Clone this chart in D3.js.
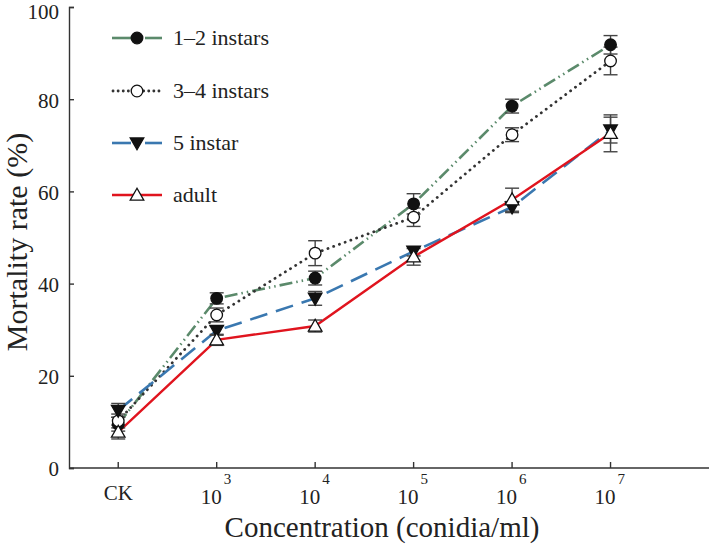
<!DOCTYPE html>
<html><head><meta charset="utf-8">
<script src="https://cdnjs.cloudflare.com/ajax/libs/d3/7.8.5/d3.min.js"></script>
<style>body{margin:0;background:#fff}svg{display:block}text{font-family:"Liberation Serif","Times New Roman",serif;fill:#222}</style>
</head><body><svg id="c" width="709" height="546"></svg>
<script>
const categories = ["CK","10^3","10^4","10^5","10^6","10^7"];
const yTicks = [0,20,40,60,80,100];
const seriesNames = ["1–2 instars","3–4 instars","5 instar","adult"];
const s12 = [9.5, 36.8, 41.2, 57.3, 78.5, 91.8];
const s12err = [1.5, 1.2, 1.5, 2.2, 1.5, 2.0];
const s34 = [10.2, 33.2, 46.6, 54.4, 72.3, 88.3];
const s34err = [1.5, 1.5, 2.7, 2.0, 1.5, 3.0];
const s5 = [12.5, 29.8, 36.8, 47.0, 56.6, 73.3];
const s5err = [1.5, 1.0, 1.5, 1.0, 1.2, 2.8];
const sAd = [7.8, 27.8, 30.8, 45.8, 58.2, 72.6];
const sAdErr = [1.5, 1.2, 1.3, 1.8, 2.5, 4.0];

const series = [
  {name: seriesNames[0], v: s12, e: s12err, color: "#5b8a6b", dash: "13,4,1.5,4,1.5,4", cap:"butt", w: 2.6, marker: "circle", fill: "#111"},
  {name: seriesNames[1], v: s34, e: s34err, color: "#333", dash: "0.1,6", cap:"round", w: 2.8, marker: "circle", fill: "#fff"},
  {name: seriesNames[2], v: s5, e: s5err, color: "#3a78b0", dash: "18,9", cap:"butt", w: 2.6, marker: "tri-down", fill: "#111"},
  {name: seriesNames[3], v: sAd, e: sAdErr, color: "#e0141e", dash: null, cap:"butt", w: 2.4, marker: "tri-up", fill: "#fff"}
];

const svg = d3.select("#c");
const x = d3.scaleLinear().domain([-0.5, 6]).range([69, 709]);
const y = d3.scaleLinear().domain([0, 100]).range([468, 7]);

// axes
const yAxis = d3.axisLeft(y).tickValues(yTicks).tickSize(-5).tickPadding(10);
const gy = svg.append("g").attr("transform","translate(69,0)").call(yAxis);
gy.select(".domain").attr("stroke","#333").attr("stroke-width",1.4);
gy.selectAll(".tick line").attr("stroke","#333").attr("stroke-width",1.4);
gy.selectAll(".tick text").attr("font-size",21).attr("dy", d => d === 100 ? "0.56em" : "0.38em").attr("font-family","Liberation Serif").attr("fill","#222");

svg.append("line").attr("x1",69).attr("x2",709).attr("y1",y(0)).attr("y2",y(0)).attr("stroke","#333").attr("stroke-width",1.4);
const gx = svg.append("g");
categories.forEach((c,i)=>{
  const xp = x(i);
  gx.append("line").attr("x1",xp).attr("x2",xp).attr("y1",y(0)).attr("y2",y(0)-6).attr("stroke","#333").attr("stroke-width",1.4);
  if (c === "CK") {
    gx.append("text").attr("x",xp).attr("y",500).attr("text-anchor","middle").attr("font-size",21).text(c);
  } else {
    const p = c.split("^");
    gx.append("text").attr("x",xp+5).attr("y",504).attr("text-anchor","end").attr("font-size",21).text(p[0]);
    gx.append("text").attr("x",xp+7).attr("y",484).attr("text-anchor","start").attr("font-size",15).text(p[1]);
  }
});

svg.append("text").attr("x",382).attr("y",537).attr("text-anchor","middle").attr("font-size",29).text("Concentration (conidia/ml)");
svg.append("text").attr("transform","translate(27,242) rotate(-90)").attr("text-anchor","middle").attr("font-size",30).text("Mortality rate (%)");

function drawMarker(g, type, cx, cy, fill){
  if (type === "circle") {
    g.append("circle").attr("cx",cx).attr("cy",cy).attr("r",5.8).attr("fill",fill).attr("stroke","#111").attr("stroke-width",1.3);
  } else {
    const s = 6.8;
    const pts = type === "tri-up"
      ? [[cx,cy-s],[cx-s,cy+s*0.75],[cx+s,cy+s*0.75]]
      : [[cx,cy+s],[cx-s,cy-s*0.75],[cx+s,cy-s*0.75]];
    g.append("path").attr("d", d3.line()(pts)+"Z").attr("fill",fill).attr("stroke","#111").attr("stroke-width",1.3);
  }
}

const line = d3.line().x((d,i)=>x(i)).y(d=>y(d));
series.forEach(s=>{
  const p = svg.append("path").attr("d", line(s.v)).attr("fill","none").attr("stroke", s.color).attr("stroke-width", s.w).attr("stroke-linecap", s.cap);
  if (s.dash) p.attr("stroke-dasharray", s.dash);
});
// error bars
series.forEach(s=>{
  const g = svg.append("g");
  s.v.forEach((v,i)=>{
    const xp = x(i), top = y(v + s.e[i]), bot = y(v - s.e[i]);
    g.append("line").attr("x1",xp).attr("x2",xp).attr("y1",top).attr("y2",bot).attr("stroke","#444").attr("stroke-width",1.4);
    [top,bot].forEach(yy=>g.append("line").attr("x1",xp-7).attr("x2",xp+7).attr("y1",yy).attr("y2",yy).attr("stroke","#444").attr("stroke-width",1.4));
  });
});
series.forEach(s=>{
  const g = svg.append("g");
  s.v.forEach((v,i)=>drawMarker(g, s.marker, x(i), y(v), s.fill));
});

// legend
const legY = [38, 91, 143, 195];
series.forEach((s,k)=>{
  const g = svg.append("g");
  const yy = legY[k];
  if (s.dash && s.cap === "round") {
    g.append("line").attr("x1",113).attr("x2",162).attr("y1",yy).attr("y2",yy).attr("stroke",s.color).attr("stroke-width",s.w).attr("stroke-linecap","round").attr("stroke-dasharray","0.1,5");
  } else if (s.dash) {
    g.append("line").attr("x1",112).attr("x2",131).attr("y1",yy).attr("y2",yy).attr("stroke",s.color).attr("stroke-width",s.w);
    g.append("line").attr("x1",145).attr("x2",162).attr("y1",yy).attr("y2",yy).attr("stroke",s.color).attr("stroke-width",s.w);
  } else {
    g.append("line").attr("x1",112).attr("x2",162).attr("y1",yy).attr("y2",yy).attr("stroke",s.color).attr("stroke-width",s.w);
  }
  drawMarker(g, s.marker, 137, yy, s.fill);
  g.append("text").attr("x",173).attr("y",yy+7).attr("font-size",22).text(s.name);
});
</script></body></html>
